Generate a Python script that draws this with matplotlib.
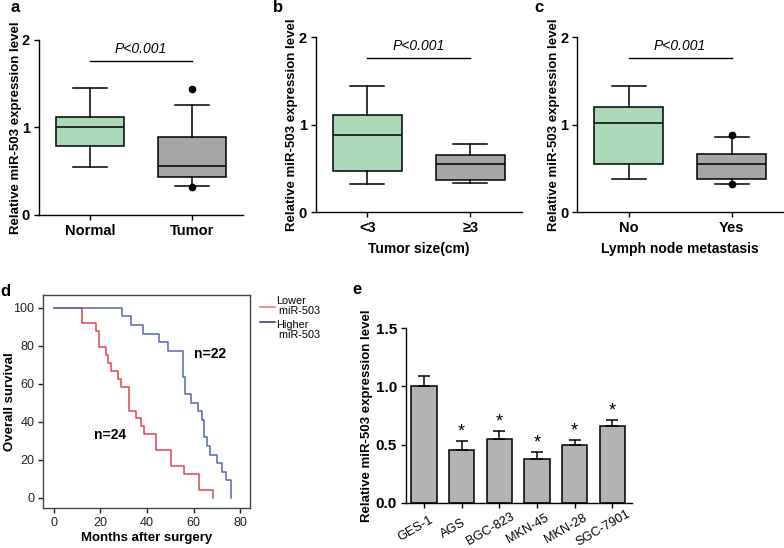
import matplotlib
matplotlib.use('Agg')
import matplotlib.pyplot as plt
from matplotlib.lines import Line2D
from matplotlib.transforms import ScaledTranslation

plt.rcParams['font.family'] = ['Liberation Sans', 'DejaVu Sans']
plt.rcParams['axes.linewidth'] = 1.0

# ---------------- data ----------------
# panel a
a_labels = ['Normal', 'Tumor']
a_med = [1.00, 0.556]
a_q1 = [0.789, 0.430]
a_q3 = [1.116, 0.891]
a_lo = [0.545, 0.331]
a_hi = [1.448, 1.261]
a_fliers = [[], [1.436, 0.316]]

# panel b
b_labels = ['<3', '≥3']
b_med = [0.888, 0.549]
b_q1 = [0.476, 0.370]
b_q3 = [1.112, 0.659]
b_lo = [0.324, 0.339]
b_hi = [1.440, 0.781]
b_fliers = [[], []]

# panel c
c_labels = ['No', 'Yes']
c_med = [1.021, 0.549]
c_q1 = [0.549, 0.377]
c_q3 = [1.208, 0.667]
c_lo = [0.381, 0.328]
c_hi = [1.440, 0.865]
c_fliers = [[], [0.888, 0.324]]

p_text = 'P<0.001'

# panel d (Kaplan-Meier)
red_t = [0, 12.2, 18.1, 19.2, 22.5, 23.4, 24.4, 27.4, 28.9, 32.4, 35.3, 37.5, 38.7,
         43.9, 50.2, 56.0, 62.2, 68.3]
red_s = [100, 91.7, 87.5, 79.2, 75.0, 70.8, 66.7, 62.5, 58.3, 45.8, 41.7, 37.5, 33.3,
         25.0, 16.7, 12.5, 4.2, 0]
blue_t = [0, 29.1, 33.1, 38.2, 45.2, 49.0, 55.4, 56.2, 58.9, 61.8, 63.8, 64.6, 65.7,
          67.1, 70.0, 72.1, 73.8, 76.0]
blue_s = [100, 95.5, 90.9, 86.4, 81.8, 77.3, 63.6, 54.5, 50.0, 45.5, 40.9, 31.8, 27.3,
          22.7, 18.2, 13.6, 9.1, 0]
d_legend = ['Lower\n miR-503', 'Higher\n miR-503']
d_n = ['n=24', 'n=22']

# panel e
e_cells = ['GES-1', 'AGS', 'BGC-823', 'MKN-45', 'MKN-28', 'SGC-7901']
e_vals = [1.00, 0.449, 0.547, 0.378, 0.498, 0.661]
e_err = [0.088, 0.078, 0.071, 0.060, 0.037, 0.049]
e_sig = ['', '*', '*', '*', '*', '*']

GREEN = '#a9d9b7'
GREY = '#a6a6a6'
BAR = '#b3b3b3'
RED = '#e0444c'
BLUE = '#5566b0'

W, H = 784, 548
fig = plt.figure(figsize=(W / 100, H / 100), dpi=100)


def px_axes(l, t, r, b):
    return fig.add_axes([l / W, 1 - b / H, (r - l) / W, (b - t) / H])


def box_panel(ax, labels, med, q1, q3, lo, hi, fliers, ylab_x, xlabel=None):
    stats = []
    for i in range(2):
        stats.append(dict(med=med[i], q1=q1[i], q3=q3[i], whislo=lo[i],
                          whishi=hi[i], fliers=fliers[i], label=labels[i]))
    res = ax.bxp(stats, positions=[1, 2], widths=0.67, patch_artist=True,
                 capwidths=0.33,
                 boxprops=dict(linewidth=1.1, edgecolor='black'),
                 medianprops=dict(color='black', linewidth=1.1),
                 whiskerprops=dict(color='black', linewidth=1.1),
                 capprops=dict(color='black', linewidth=1.1),
                 flierprops=dict(marker='o', markerfacecolor='black',
                                 markeredgecolor='black', markersize=4.5))
    for patch, col in zip(res['boxes'], [GREEN, GREY]):
        patch.set_facecolor(col)
    ax.set_xlim(0.5, 2.5)
    ax.set_ylim(0, 2)
    ax.set_yticks([0, 1, 2])
    for s in ['top', 'right']:
        ax.spines[s].set_visible(False)
    ax.tick_params(axis='both', direction='out', length=3.5, width=1.0,
                   labelsize=10.5, pad=3)
    for lab in ax.get_xticklabels() + ax.get_yticklabels():
        lab.set_fontweight('bold')
    ax.set_ylabel('Relative miR-503 expression level', fontsize=9.5,
                  fontweight='bold')
    ax.yaxis.set_label_coords(ylab_x, 0.5)
    if xlabel:
        ax.set_xlabel(xlabel, fontsize=10, fontweight='bold', labelpad=5)
    ax.plot([1, 2], [1.76, 1.76], color='black', lw=1.0)
    ax.text(1.5, 1.9, p_text, ha='center', va='center', fontsize=10,
            fontstyle='italic')


ax_a = px_axes(39, 40, 243.3, 215)
box_panel(ax_a, a_labels, a_med, a_q1, a_q3, a_lo, a_hi, a_fliers, -0.085)
ax_b = px_axes(315.7, 37.3, 521.7, 212.3)
box_panel(ax_b, b_labels, b_med, b_q1, b_q3, b_lo, b_hi, b_fliers, -0.088,
          xlabel='Tumor size(cm)')
ax_c = px_axes(577.3, 37.3, 783, 212.3)
box_panel(ax_c, c_labels, c_med, c_q1, c_q3, c_lo, c_hi, c_fliers, -0.082,
          xlabel='Lymph node metastasis')

# ---------------- panel d ----------------
ax_d = px_axes(43.3, 295, 250, 508.3)
ax_d.step(red_t, red_s, where='post', color=RED, lw=1.1)
ax_d.step(blue_t, blue_s, where='post', color=BLUE, lw=1.1)
ax_d.set_xlim(-4.6, 84.3)
ax_d.set_ylim(-5.6, 106.7)
ax_d.set_xticks([0, 20, 40, 60, 80])
ax_d.set_yticks([0, 20, 40, 60, 80, 100])
for s in ax_d.spines.values():
    s.set_color('#444444')
    s.set_linewidth(1.0)
ax_d.tick_params(axis='both', direction='out', length=3.5, width=1.0,
                 labelsize=9, colors='#222222', pad=3)
ax_d.set_xlabel('Months after surgery', fontsize=9.5, fontweight='bold', labelpad=2)
ax_d.set_ylabel('Overall survival', fontsize=9.5, fontweight='bold')
ax_d.yaxis.set_label_coords(-0.132, 0.5)
ax_d.text(24.1, 33, d_n[0], fontsize=10, fontweight='bold', ha='center', va='center')
ax_d.text(67.1, 75.6, d_n[1], fontsize=10, fontweight='bold', ha='center', va='center')

# manual legend
for ypix, col in [(306.7, '#f07c7c'), (322.3, '#3d3f86')]:
    fig.add_artist(Line2D([260 / W, 275 / W], [1 - ypix / H, 1 - ypix / H],
                          color=col, lw=1.2))
for ytop, txt in [(296.0, d_legend[0]), (319.5, d_legend[1])]:
    fig.text(276.5 / W, 1 - ytop / H, txt, fontsize=7.8, va='top', ha='left',
             linespacing=1.05)

# ---------------- panel e ----------------
ax_e = px_axes(406, 328.3, 631.7, 502.7)
xs = list(range(len(e_cells)))
ax_e.bar(xs, e_vals, width=0.67, color=BAR, edgecolor='black', linewidth=1.1,
         yerr=[[0] * len(e_err), e_err], capsize=4.5,
         error_kw=dict(elinewidth=1.1, capthick=1.1, ecolor='black'))
for x, v, e, s in zip(xs, e_vals, e_err, e_sig):
    if s:
        ax_e.annotate(s, (x, v + e), xytext=(0, 0.5), textcoords='offset points',
                      ha='center', va='bottom', fontsize=13)
ax_e.set_xlim(-0.48, 5.52)
ax_e.set_ylim(0, 1.5)
ax_e.set_yticks([0, 0.5, 1.0, 1.5])
ax_e.set_yticklabels(['0.0', '0.5', '1.0', '1.5'])
ax_e.set_xticks(xs)
ax_e.set_xticklabels(e_cells, rotation=30, ha='center', va='center',
                     rotation_mode='anchor', fontsize=9.2)
for s in ['top', 'right']:
    ax_e.spines[s].set_visible(False)
ax_e.tick_params(axis='both', direction='out', length=3.5, width=1.0, pad=3)
ax_e.tick_params(axis='y', labelsize=11)
for lab in ax_e.get_yticklabels():
    lab.set_fontweight('bold')
shift = ScaledTranslation(-9 / 100, -17 / 100, fig.dpi_scale_trans)
for lab in ax_e.get_xticklabels():
    lab.set_transform(lab.get_transform() + shift)
ax_e.set_ylabel('Relative miR-503 expression level', fontsize=9.5,
                fontweight='bold')
ax_e.yaxis.set_label_coords(-0.145, 0.5)

# panel letters
for x, y, t in [(15, 7, 'a'), (278, 7, 'b'), (539, 7, 'c'), (5, 292, 'd'), (357, 290, 'e')]:
    fig.text(x / W, 1 - y / H, t, fontsize=12, fontweight='bold', ha='center',
             va='center')

fig.savefig('out.png', dpi=100)
